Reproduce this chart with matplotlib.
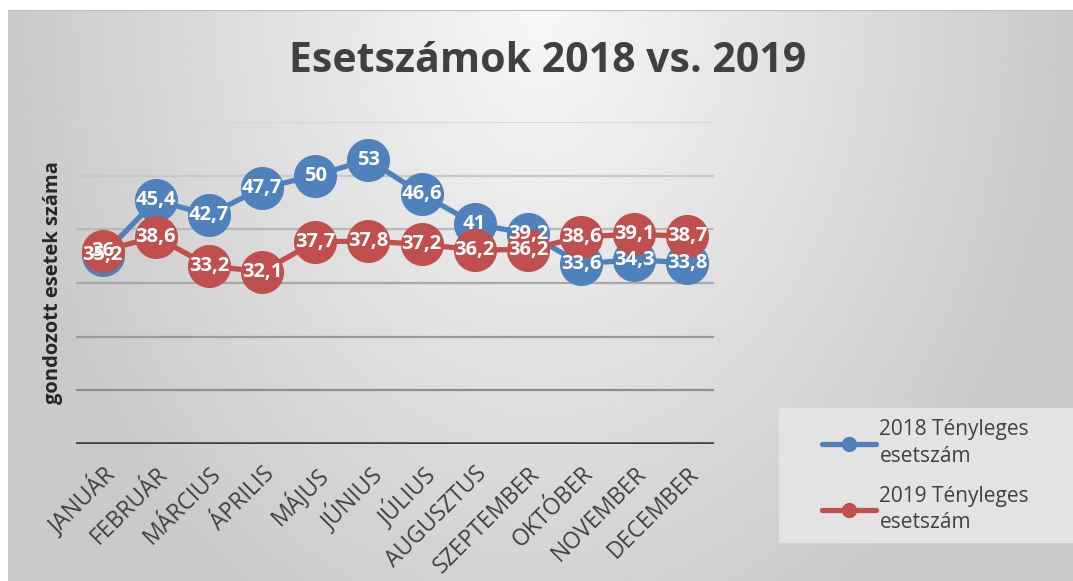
import numpy as np
import matplotlib
matplotlib.use('Agg')
import matplotlib.pyplot as plt
from matplotlib.lines import Line2D
from matplotlib.patches import Rectangle

plt.rcParams['font.family'] = ['Open Sans', 'DejaVu Sans']

# data
months = ['JANUÁR', 'FEBRUÁR', 'MÁRCIUS', 'ÁPRILIS', 'MÁJUS', 'JÚNIUS',
          'JÚLIUS', 'AUGUSZTUS', 'SZEPTEMBER', 'OKTÓBER', 'NOVEMBER', 'DECEMBER']
cases_2018 = [35.2, 45.4, 42.7, 47.7, 50, 53, 46.6, 41, 39.2, 33.6, 34.3, 33.8]
cases_2019 = [36, 38.6, 33.2, 32.1, 37.7, 37.8, 37.2, 36.2, 36.2, 38.6, 39.1, 38.7]
label_2018 = '2018 Tényleges\nesetszám'
label_2019 = '2019 Tényleges\nesetszám'
grid_levels = [10, 20, 30, 40, 50, 60]

blue = '#4f81bd'
red = '#c0504d'
text_col = '#404040'

W, H = 1073, 581
fig = plt.figure(figsize=(W / 100, H / 100), dpi=100)
fig.patch.set_facecolor('white')

# gradient background of the chart area
bg = fig.add_axes([8 / W, 0, 1 - 8 / W, 1 - 10 / H])
gx = np.linspace(-1, 1, 400)
gy = np.linspace(0, 1, 220)
XX, YY = np.meshgrid(gx, gy)
r = np.clip(np.sqrt(XX ** 2 + (0.8 * YY) ** 2), 0, 1)
shade = 0.97 - 0.18 * r
bg.imshow(shade, cmap='gray', vmin=0, vmax=1, aspect='auto',
          extent=[0, 1, 0, 1], origin='upper')
bg.axhline(1, color='#bdbdbd', lw=1.5)
bg.set_xlim(0, 1)
bg.set_ylim(0, 1)
bg.axis('off')

ax = fig.add_axes([76 / W, 1 - 444 / H, (714 - 76) / W, (444 - 122) / H])
ax.patch.set_alpha(0)
x = np.arange(len(months))
ax.set_xlim(-0.5, len(months) - 0.5)
ax.set_ylim(0, 60)

# gridlines get lighter towards the top, as in the picture
grid_cols = ['#8e8e8e', '#9a9a9a', '#a8a8a8', '#b8b8b8', '#c8c8c8', '#d6d6d6']
for lvl, c in zip(grid_levels, grid_cols):
    ax.axhline(lvl, color=c, lw=1.6, zorder=1)
ax.axhline(0, color='#404040', lw=2.6, zorder=2)

for s in ax.spines.values():
    s.set_visible(False)

ax.plot(x, cases_2018, color=blue, lw=3.8, marker='o', ms=30,
        solid_capstyle='round', zorder=3)
ax.plot(x, cases_2019, color=red, lw=3.8, marker='o', ms=30,
        solid_capstyle='round', zorder=4)

def fmt(v):
    return f'{v:g}'.replace('.', ',')

for xi, v in zip(x, cases_2018):
    ax.text(xi, v, fmt(v), ha='center', va='center', color='white',
            fontsize=14.5, fontweight='bold', zorder=5)
for xi, v in zip(x, cases_2019):
    ax.text(xi, v, fmt(v), ha='center', va='center', color='white',
            fontsize=14.5, fontweight='bold', zorder=6)

ax.set_yticks([])
ax.set_xticks(x)
ax.set_xticklabels(months, rotation=45, ha='right', rotation_mode='anchor',
                   fontsize=16.5, color=text_col)
ax.tick_params(axis='x', length=0, pad=13)
ax.set_ylabel('gondozott esetek száma', fontsize=14.5, fontweight='bold',
              color='#262626', labelpad=9)

fig.text(548 / W, 1 - 61 / H, 'Esetszámok 2018 vs. 2019', ha='center',
         va='center', fontsize=29.5, fontweight='bold', color=text_col)

# legend background box
fig.patches.append(Rectangle((779 / W, 1 - 542 / H), (W - 779) / W, 134 / H,
                             transform=fig.transFigure, color='#e3e3e3',
                             zorder=0.5))

handles = [
    Line2D([0], [0], color=blue, lw=3.8, marker='o', ms=10, solid_capstyle='round'),
    Line2D([0], [0], color=red, lw=3.8, marker='o', ms=10, solid_capstyle='round'),
]
leg = fig.legend(handles, [label_2018, label_2019], loc='upper left',
                 bbox_to_anchor=(818 / W, 1 - 415 / H), frameon=False,
                 fontsize=15, handlelength=2.6, handletextpad=0.15,
                 labelspacing=0.9, borderpad=0.2, borderaxespad=0)
for t in leg.get_texts():
    t.set_color(text_col)
    t.set_linespacing(1.35)

fig.savefig('out.png', dpi=100)
